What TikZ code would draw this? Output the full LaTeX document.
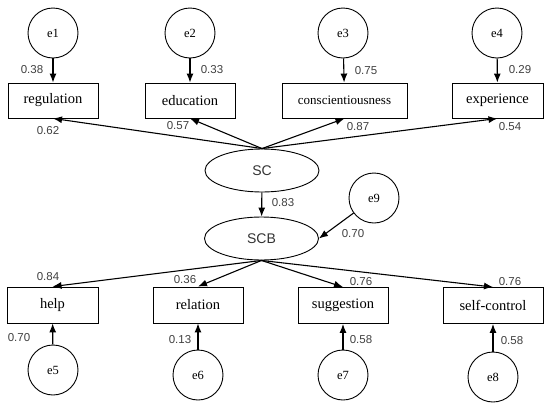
\documentclass[tikz,border=0pt]{standalone}
\usepackage{fontspec}
\setmainfont{Liberation Serif}
\setsansfont{Liberation Sans}
\usetikzlibrary{shapes.geometric,arrows.meta}

\begin{document}
\begin{tikzpicture}[x=1pt,y=-1pt,
  obs/.style={draw, line width=0.9pt, minimum width=90pt, minimum height=35pt, inner sep=0pt, font=\fontsize{14.5}{16}\selectfont},
  err/.style={draw, circle, line width=0.9pt, minimum size=50pt, inner sep=0pt, font=\fontsize{12.5}{14}\selectfont},
  lat/.style={draw, ellipse, line width=0.9pt, minimum width=114pt, minimum height=43pt, inner sep=0pt, font=\sffamily\fontsize{14}{16}\selectfont, text=black!80},
  path/.style={-{Latex[length=9pt,width=7pt]}, line width=1.1pt},
  coef/.style={inner sep=1pt, text=black!75, font=\sffamily\fontsize{11.5}{13}\selectfont}]
\useasboundingbox (0,0) rectangle (550,405);

\node[err] (e1) at (53,33) {e1};
\node[err] (e2) at (190,33) {e2};
\node[err] (e3) at (343,33) {e3};
\node[err] (e4) at (497,33) {e4};

\node[obs] (regulation) at (53,100.5) {regulation};
\node[obs] (education) at (190,100.5) {education};
\node[obs, minimum width=125pt, font=\fontsize{13}{15}\selectfont] (conscientiousness) at (344.5,100.5) {conscientiousness};
\node[obs, minimum width=91pt] (experience) at (497.5,100.5) {experience};

\node[lat] (SC) at (262,170.5) {SC};
\node[lat] (SCB) at (261.5,238.5) {SCB};
\node[err] (e9) at (374,198) {e9};

\node[obs, minimum width=91pt, minimum height=36pt] (help) at (52.5,305) {help};
\node[obs, minimum height=36pt] (relation) at (198,305) {relation};
\node[obs, minimum height=36pt] (suggestion) at (343,305.5) {suggestion};
\node[obs, minimum width=100pt, minimum height=36pt] (selfcontrol) at (493,305.5) {self-control};

\node[err] (e5) at (53,370) {e5};
\node[err] (e6) at (198,375) {e6};
\node[err] (e7) at (343,375) {e7};
\node[err] (e8) at (493,377) {e8};

\draw[path] (e1) -- (regulation);
\draw[path] (e2) -- (education);
\draw[path] (e3) -- (conscientiousness);
\draw[path] (e4) -- (experience);

\draw[path] (SC.north) -- (regulation.south);
\draw[path] (SC.north) -- (education.south);
\draw[path] (SC.north) -- (conscientiousness.south);
\draw[path] (SC.north) -- (experience.south);

\draw[path] (SC) -- (SCB);
\draw[path] (e9) -- (SCB.east);

\draw[path] (SCB.south) -- (help.north);
\draw[path] (SCB.south) -- (relation.north);
\draw[path] (SCB.south) -- (suggestion.north);
\draw[path] (SCB.south) -- (selfcontrol.north);

\draw[path] (e5) -- (help);
\draw[path] (e6) -- (relation);
\draw[path] (e7) -- (suggestion);
\draw[path] (e8) -- (selfcontrol);

\node[coef] (r1) at (32,70) {0.38};
\node[coef] (r2) at (212,70) {0.33};
\node[coef] (r3) at (366,71) {0.75};
\node[coef] (r4) at (520,70) {0.29};

\node[coef] (l1) at (48,131) {0.62};
\node[coef] (l2) at (178,126) {0.57};
\node[coef] (l3) at (358,127) {0.87};
\node[coef] (l4) at (510,127) {0.54};

\node[coef] (b1) at (283,203) {0.83};
\node[coef] (r9) at (353,234) {0.70};

\node[coef] (l5) at (48,277) {0.84};
\node[coef] (l6) at (185,280) {0.36};
\node[coef] (l7) at (361,282) {0.76};
\node[coef] (l8) at (510,282) {0.76};

\node[coef] (r5) at (19,338) {0.70};
\node[coef] (r6) at (180,340) {0.13};
\node[coef] (r7) at (361,340) {0.58};
\node[coef] (r8) at (512,341) {0.58};

\end{tikzpicture}
\end{document}
